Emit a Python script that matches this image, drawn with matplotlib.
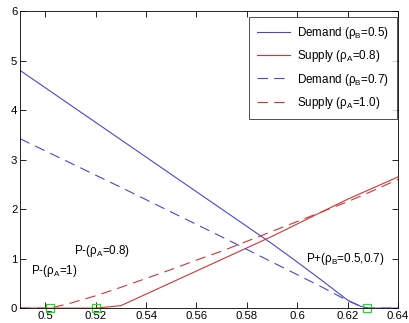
import matplotlib
matplotlib.use("Agg")
import matplotlib.pyplot as plt
from matplotlib.ticker import FormatStrFormatter

plt.rcParams['font.family'] = ['Liberation Sans', 'DejaVu Sans']
plt.rcParams['mathtext.fontset'] = 'custom'
plt.rcParams['mathtext.rm'] = 'Liberation Sans'
plt.rcParams['mathtext.it'] = 'Liberation Sans:italic'
plt.rcParams['lines.scale_dashes'] = False

# Demand, rho_B = 0.5 (solid blue)
dem05_x = [0.49, 0.51, 0.53, 0.55, 0.57, 0.59, 0.60, 0.61, 0.62, 0.625, 0.628, 0.64]
dem05_y = [4.8, 4.1, 3.4, 2.7, 2.0, 1.3, 0.93, 0.55, 0.16, 0.04, 0.0, 0.0]
# Demand, rho_B = 0.7 (dashed blue)
dem07_x = [0.49, 0.51, 0.53, 0.55, 0.57, 0.59, 0.61, 0.62, 0.625, 0.628, 0.64]
dem07_y = [3.42, 2.93, 2.44, 1.94, 1.44, 0.93, 0.42, 0.15, 0.04, 0.0, 0.0]
# Supply, rho_A = 0.8 (solid red)
sup08_x = [0.49, 0.52, 0.53, 0.56, 0.59, 0.62, 0.64]
sup08_y = [0.0, 0.0, 0.05, 0.75, 1.45, 2.2, 2.65]
# Supply, rho_A = 1.0 (dashed red)
sup10_x = [0.49, 0.502, 0.51, 0.52, 0.53, 0.54, 0.55, 0.56, 0.57, 0.58, 0.59, 0.60, 0.61, 0.62, 0.63, 0.64]
sup10_y = [0.0, 0.0, 0.1, 0.25, 0.42, 0.6, 0.78, 0.97, 1.15, 1.35, 1.55, 1.75, 1.95, 2.15, 2.37, 2.6]
# Threshold markers
mark_x = [0.502, 0.52, 0.6275]
mark_y = [0.0, 0.0, 0.0]

legend_labels = ['Demand (ρ$_\\mathrm{B}$=0.5)', 'Supply (ρ$_\\mathrm{A}$=0.8)',
                 'Demand (ρ$_\\mathrm{B}$=0.7)', 'Supply (ρ$_\\mathrm{A}$=1.0)']
xticks = [0.5, 0.52, 0.54, 0.56, 0.58, 0.6, 0.62, 0.64]
yticks = [0, 1, 2, 3, 4, 5, 6]

blue = '#4848d0'
red = '#d03535'
green = '#22dd22'

fig = plt.figure(figsize=(4.10, 3.23), dpi=100)
ax = fig.add_axes([0.049, 0.046, 0.922, 0.920])

ax.plot(dem05_x, dem05_y, color=blue, lw=0.8, label=legend_labels[0])
ax.plot(sup08_x, sup08_y, color=red, lw=0.8, label=legend_labels[1])
ax.plot(dem07_x, dem07_y, color=blue, lw=0.8, dashes=(7.5, 4.5), label=legend_labels[2])
ax.plot(sup10_x, sup10_y, color=red, lw=0.8, dashes=(7.5, 4.5), label=legend_labels[3])
ax.plot(mark_x, mark_y, ls='none', marker='s', ms=6, mfc='none', mec=green, mew=0.9, clip_on=False)

fs = 8.4
ax.text(0.4943, 0.75, 'P-(ρ$_\\mathrm{A}$=1)', fontsize=fs, ha='left', va='center')
ax.text(0.5113, 1.15, 'P-(ρ$_\\mathrm{A}$=0.8)', fontsize=fs, ha='left', va='center')
ax.text(0.6034, 1.0, 'P+(ρ$_\\mathrm{B}$=0.5,0.7)', fontsize=fs, ha='left', va='center')

ax.set_xlim(0.49, 0.64)
ax.set_ylim(0, 6)
ax.set_xticks(xticks)
ax.set_yticks(yticks)
ax.xaxis.set_major_formatter(FormatStrFormatter('%g'))
ax.tick_params(direction='in', top=True, right=True, labelsize=8.2, length=4, width=0.6, pad=2)
for s in ax.spines.values():
    s.set_linewidth(0.6)

leg = ax.legend(loc='upper right', bbox_to_anchor=(0.997, 0.98), fontsize=fs,
                frameon=True, fancybox=False, edgecolor='black', borderaxespad=0,
                handlelength=2.8, handletextpad=0.6, labelspacing=0.62, borderpad=0.7)
leg.get_frame().set_linewidth(0.6)

fig.savefig('out.png', dpi=100)
